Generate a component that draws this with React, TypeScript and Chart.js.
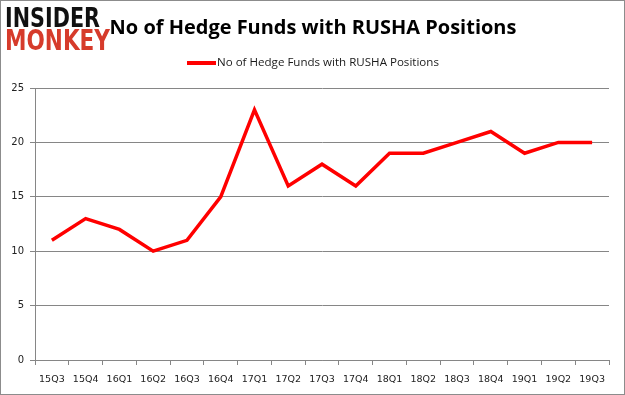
import React, { useEffect, useRef } from "react";
import { Chart, registerables } from "chart.js";

Chart.register(...registerables);

const categories = ["15Q3","15Q4","16Q1","16Q2","16Q3","16Q4","17Q1","17Q2","17Q3","17Q4","18Q1","18Q2","18Q3","18Q4","19Q1","19Q2","19Q3"];
const hedgeFunds = [11,13,12,10,11,15,23,16,18,16,19,19,20,21,19,20,20];
const seriesLabel = "No of Hedge Funds with RUSHA Positions";
const titleText = "No of Hedge Funds with RUSHA Positions";
const yTicks = [0, 5, 10, 15, 20, 25];

function fitFont(ctx: CanvasRenderingContext2D, text: string, weight: string, family: string, target: number) {
  let size = 20;
  ctx.font = `${weight} ${size}px ${family}`;
  const w = ctx.measureText(text).width;
  size = (size * target) / w;
  return `${weight} ${size.toFixed(2)}px ${family}`;
}

const decorPlugin = {
  id: "decor",
  afterDraw(chart: any) {
    const ctx: CanvasRenderingContext2D = chart.ctx;
    ctx.save();
    // border
    ctx.strokeStyle = "#8c8c8c";
    ctx.lineWidth = 1;
    ctx.strokeRect(0.5, 0.5, chart.width - 1, chart.height - 1);
    // logo
    ctx.textBaseline = "alphabetic";
    ctx.textAlign = "left";
    ctx.save();
    ctx.translate(5, 27);
    ctx.scale(1, 1.3);
    ctx.fillStyle = "#111111";
    ctx.font = fitFont(ctx, "INSIDER", "900", "'DejaVu Sans'", 95);
    ctx.fillText("INSIDER", 0, 0);
    ctx.restore();
    ctx.save();
    ctx.translate(5, 50);
    ctx.scale(1, 1.3);
    ctx.fillStyle = "#d63b2b";
    ctx.font = fitFont(ctx, "MONKEY", "900", "'DejaVu Sans'", 105);
    ctx.fillText("MONKEY", 0, 0);
    ctx.restore();
    // title
    ctx.fillStyle = "#000000";
    ctx.font = fitFont(ctx, titleText, "bold", "'Open Sans'", 407);
    ctx.textAlign = "center";
    ctx.textBaseline = "middle";
    ctx.fillText(titleText, 313, 28);
    // legend
    ctx.fillStyle = "#ff0000";
    ctx.fillRect(187, 61, 29, 4);
    ctx.fillStyle = "#1a1a1a";
    ctx.textAlign = "left";
    ctx.font = fitFont(ctx, seriesLabel, "normal", "'Open Sans'", 222);
    ctx.fillText(seriesLabel, 217, 63);
    ctx.restore();
  },
};

export default function App() {
  const ref = useRef<HTMLCanvasElement>(null);
  useEffect(() => {
    const chart = new Chart(ref.current!, {
      type: "line",
      data: {
        labels: categories,
        datasets: [
          {
            label: seriesLabel,
            data: hedgeFunds,
            borderColor: "#ff0000",
            backgroundColor: "#ff0000",
            borderWidth: 3.5,
            pointRadius: 0,
            tension: 0,
          },
        ],
      },
      options: {
        animation: false,
        responsive: false,
        layout: { padding: { top: 88, right: 16, bottom: 0, left: 0 } },
        plugins: { legend: { display: false }, title: { display: false }, tooltip: { enabled: false } },
        scales: {
          x: {
            offset: true,
            grid: { offset: true, drawOnChartArea: false, color: "#868686", tickLength: 5 },
            border: { color: "#868686" },
            ticks: { color: "#222222", font: { family: "'DejaVu Sans'", size: 9.5 }, padding: 9, maxRotation: 0, autoSkip: false },
            afterFit: (s: any) => { s.height = 35; },
          },
          y: {
            min: 0,
            max: 25,
            afterBuildTicks: (s: any) => { s.ticks = yTicks.map((v) => ({ value: v })); },
            grid: { color: "#868686", tickLength: 5 },
            border: { color: "#868686" },
            ticks: { color: "#222222", font: { family: "'DejaVu Sans'", size: 10 }, padding: 6 },
            afterFit: (s: any) => { s.width = 35; },
          },
        },
      },
      plugins: [decorPlugin],
    });
    return () => chart.destroy();
  }, []);
  return (
    <div style={{ position: "fixed", left: 0, top: 0, width: 625, height: 395, background: "#fff" }}>
      <canvas ref={ref} width={625} height={395} style={{ width: 625, height: 395, display: "block" }} />
    </div>
  );
}
